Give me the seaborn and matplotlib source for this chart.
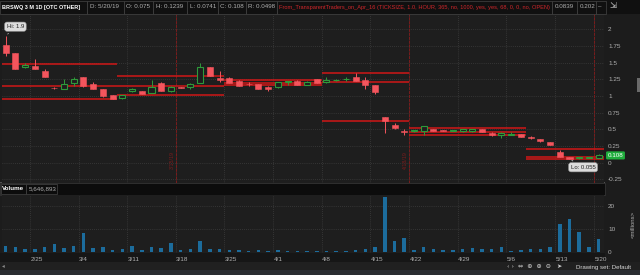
import numpy as np
import pandas as pd
import matplotlib
matplotlib.use("Agg")
import matplotlib.pyplot as plt
import matplotlib.transforms as mtransforms
from matplotlib.patches import Rectangle
import seaborn as sns

# ---------------- data ----------------
opens = [1.77, 1.64, 1.43, 1.45, 1.37, 1.125, 1.11, 1.19, 1.29, 1.18,
         1.10, 1.01, 0.965, 1.08, 1.075, 1.04, 1.20, 1.07, 1.135, 1.13,
         1.20, 1.44, 1.265, 1.265, 1.23, 1.18, 1.175, 1.14, 1.135, 1.21,
         1.23, 1.165, 1.25, 1.21, 1.235, 1.25, 1.29, 1.24, 1.165, 0.68,
         0.565, 0.47, 0.47, 0.475, 0.505, 0.48, 0.475, 0.47, 0.47, 0.50,
         0.45, 0.41, 0.42, 0.425, 0.39, 0.35, 0.31, 0.16, 0.08, 0.065,
         0.07, 0.075]
highs = [1.90, 1.65, 1.50, 1.55, 1.41, 1.13, 1.26, 1.29, 1.29, 1.21,
         1.11, 1.02, 1.02, 1.12, 1.08, 1.24, 1.21, 1.15, 1.14, 1.20,
         1.50, 1.44, 1.38, 1.28, 1.24, 1.21, 1.18, 1.15, 1.21, 1.22,
         1.24, 1.22, 1.26, 1.28, 1.25, 1.28, 1.34, 1.28, 1.17, 0.69,
         0.60, 0.50, 0.49, 0.555, 0.51, 0.485, 0.49, 0.50, 0.505, 0.505,
         0.455, 0.46, 0.46, 0.43, 0.395, 0.355, 0.315, 0.19, 0.085, 0.08,
         0.085, 0.1239]
lows = [1.60, 1.40, 1.42, 1.40, 1.28, 1.11, 1.10, 1.15, 1.13, 1.10,
        0.99, 0.95, 0.96, 1.06, 1.03, 1.04, 1.08, 1.06, 1.12, 1.10,
        1.19, 1.30, 1.21, 1.19, 1.15, 1.15, 1.10, 1.075, 1.12, 1.16,
        1.16, 1.16, 1.19, 1.20, 1.23, 1.23, 1.22, 1.11, 1.03, 0.45,
        0.51, 0.42, 0.46, 0.42, 0.47, 0.47, 0.47, 0.465, 0.465, 0.455,
        0.40, 0.365, 0.41, 0.38, 0.36, 0.315, 0.265, 0.085, 0.055, 0.06,
        0.065, 0.0741]
closes = [1.64, 1.41, 1.46, 1.41, 1.28, 1.115, 1.175, 1.26, 1.15, 1.10,
          1.00, 0.96, 1.015, 1.10, 1.03, 1.14, 1.08, 1.13, 1.125, 1.18,
          1.435, 1.30, 1.235, 1.20, 1.155, 1.175, 1.105, 1.10, 1.21, 1.22,
          1.16, 1.21, 1.20, 1.24, 1.245, 1.26, 1.225, 1.165, 1.065, 0.63,
          0.52, 0.46, 0.48, 0.55, 0.475, 0.475, 0.48, 0.50, 0.50, 0.46,
          0.41, 0.45, 0.43, 0.385, 0.365, 0.32, 0.27, 0.09, 0.06, 0.075,
          0.08, 0.108]
volume_m = [2.5, 2.2, 1.05, 1.2, 2.2, 3.4, 1.6, 2.5, 8.4, 1.5,
            2.2, 0.75, 1.05, 2.5, 0.75, 2.2, 1.5, 3.7, 0.75, 1.05,
            4.7, 1.05, 1.05, 0.75, 0.75, 0.3, 0.6, 0.3, 0.6, 0.3,
            0.3, 0.2, 0.3, 0.3, 0.1, 0.5, 0.8, 1.0, 2.0, 24.2,
            4.7, 6.2, 0.8, 2.2, 1.2, 0.6, 0.8, 1.2, 1.6, 1.0,
            1.2, 2.0, 0.5, 0.8, 1.2, 1.2, 2.0, 12.3, 14.3, 8.5,
            2.0, 5.65]

# week-start bars (index) and their labels
week_idx = [3, 8, 13, 18, 23, 28, 33, 38, 42, 47, 52, 57, 61]
week_labels = ["2/25", "3/4", "3/11", "3/18", "3/25", "4/1", "4/8", "4/15",
               "4/22", "4/29", "5/6", "5/13", "5/20"]
# option-expiration markers (bar index, label; the last label is hidden under the Lo bubble)
exp_idx = [17, 41, 60]
exp_labels = ["3/15/19", "4/18/19", ""]
# study levels: segment start/end (in bar units) and levels
seg_start = [-0.5, 11.5, 22.5, 32.5, 41.5, 53.5]
seg_end = [11.5, 22.5, 32.5, 41.5, 53.5, 61.6]
seg_levels = [[1.48, 1.15, 0.955], [1.30, 1.145, 1.02], [1.235, 1.19, 1.16],
              [1.35, 1.215, 0.625], [0.515, 0.455, 0.415], [0.20, 0.09, 0.055]]
price_ticks = [2, 1.75, 1.5, 1.25, 1, 0.75, 0.5, 0.25, 0, -0.25]
price_tick_labels = ["2", "1.75", "1.5", "1.25", "1", "0.75", "0.5", "0.25", "0", "-0.25"]
vol_ticks = [0, 10, 20]

header_cells = [("BRSWQ 3 M 1D [OTC OTHER]", 0, 87), ("D: 5/20/19", 87, 124),
                ("O: 0.075", 124, 153), ("H: 0.1239", 153, 187), ("L: 0.0741", 187, 218),
                ("C: 0.108", 218, 246), ("R: 0.0498", 246, 277),
                ("From_TransparentTraders_on_Apr_16 (TICKSIZE, 1.0, HOUR, 365, no, 1000, yes, yes, 68, 0, 0, no, OPEN)", 277, 552),
                ("0.0839", 552, 577), ("0.202", 577, 596), ("–", 596, 606)]

# ---------------- style ----------------
sns.set_theme(style="dark")
plt.rcParams["font.family"] = ["Liberation Sans", "DejaVu Sans"]

BG = "#1e1e1e"
FIG_BG = "#1c1c1c"
GRID = "#4a4a4a"
RED = "#f4555d"
GREEN = "#2e9a3a"
LEVEL = "#d01717"
EXP = "#7a1c1c"
BLUE = "#1c6c9c"
TXT = "#b0b0b0"

W, H = 640, 275
fig = plt.figure(figsize=(6.4, 2.75), dpi=100, facecolor=FIG_BG)


def frac(x0, y0, x1, y1):
    return [x0 / W, 1 - y1 / H, (x1 - x0) / W, (y1 - y0) / H]


n = len(opens)
idx = np.arange(n)
XL = (-0.38, 61.55)

# ---------------- price panel ----------------
ax = fig.add_axes(frac(2, 14, 604, 183))
ax.set_facecolor(BG)
ax.set_xlim(*XL)
ax.set_ylim(-0.306, 2.23)
for t in price_ticks:
    ax.axhline(t, color=GRID, lw=0.5, ls=(0, (1, 2)), zorder=0)
for w in week_idx:
    ax.axvline(w - 0.5, color=GRID, lw=0.5, ls=(0, (1, 2)), zorder=0)
for e, lab in zip(exp_idx, exp_labels):
    ax.axvline(e + 0.5, color=EXP, lw=0.7, ls=(0, (3, 1)), zorder=1)
    if lab:
        ax.text(e + 0.15, 0.04, lab, rotation=90, color=EXP, fontsize=3.8,
                ha="center", va="center", zorder=1)

for s0, s1, levs in zip(seg_start, seg_end, seg_levels):
    for lv in levs:
        ax.hlines(lv, s0, s1, color=LEVEL, lw=1.1, zorder=2)

o = np.array(opens); c = np.array(closes); hi = np.array(highs); lo = np.array(lows)
up = c >= o
for i in range(n):
    col = GREEN if up[i] else RED
    ax.vlines(i, lo[i], hi[i], color=col, lw=0.7, zorder=3)
    bottom = min(o[i], c[i])
    height = max(abs(c[i] - o[i]), 0.012)
    if up[i]:
        ax.bar(i, height, bottom=bottom, width=0.62, facecolor=BG, edgecolor=GREEN,
               linewidth=0.8, zorder=4)
    else:
        ax.bar(i, height, bottom=bottom, width=0.62, facecolor=RED, edgecolor=RED,
               linewidth=0.4, zorder=4)

ax.yaxis.tick_right()
ax.set_yticks(price_ticks)
ax.set_yticklabels(price_tick_labels)
ax.tick_params(axis="y", length=0, pad=3, labelsize=4.6, colors=TXT)
ax.set_xticks([])
for sp in ax.spines.values():
    sp.set_visible(False)

# Hi / Lo callouts
imax = int(np.argmax(hi)); imin = int(np.argmin(lo))
ax.annotate(f"Hi: {hi[imax]:g}", xy=(imax, hi[imax]), xytext=(imax + 1.0, hi[imax] + 0.14),
            fontsize=4.3, color="#222222", ha="center", va="center", zorder=6,
            bbox=dict(boxstyle="round,pad=0.35,rounding_size=0.4", fc="#dcdcdc", ec="#9a9a9a", lw=0.4),
            arrowprops=dict(arrowstyle="-", color="#dcdcdc", lw=0.5))
ax.annotate(f"Lo: {lo[imin]:g}", xy=(imin, lo[imin]), xytext=(imin + 1.4, lo[imin] - 0.125),
            fontsize=4.3, color="#222222", ha="center", va="center", zorder=6,
            bbox=dict(boxstyle="round,pad=0.35,rounding_size=0.4", fc="#dcdcdc", ec="#9a9a9a", lw=0.4),
            arrowprops=dict(arrowstyle="-", color="#dcdcdc", lw=0.5))

# last price label on right axis
tr = mtransforms.blended_transform_factory(ax.transAxes, ax.transData)
ax.text(1.006, c[-1], f"{c[-1]:g}", transform=tr, fontsize=4.5, color="white",
        ha="left", va="center", zorder=6, clip_on=False,
        bbox=dict(boxstyle="round,pad=0.25,rounding_size=0.2", fc="#1fae3c", ec="none"))

# ---------------- volume panel ----------------
axv = fig.add_axes(frac(2, 195, 604, 253))
axv.set_facecolor(BG)
vdf = pd.DataFrame({"i": idx, "vol": volume_m})
sns.barplot(data=vdf, x="i", y="vol", native_scale=True, color=BLUE, saturation=1,
            width=0.36, ax=axv, zorder=3, linewidth=0)
axv.set_xlim(*XL)
axv.set_ylim(-0.57, 25.0)
for t in [10, 20]:
    axv.axhline(t, color=GRID, lw=0.5, ls=(0, (1, 2)), zorder=0)
for w in week_idx:
    axv.axvline(w - 0.5, color=GRID, lw=0.5, ls=(0, (1, 2)), zorder=0)
axv.yaxis.tick_right()
axv.set_yticks(vol_ticks)
axv.tick_params(axis="y", length=0, pad=3, labelsize=4.6, colors=TXT)
axv.set_xticks([])
axv.set_xlabel(""); axv.set_ylabel("")
for sp in axv.spines.values():
    sp.set_visible(False)

trv = mtransforms.blended_transform_factory(axv.transData, axv.transAxes)
for w, lab in zip(week_idx, week_labels):
    axv.text(w - 0.45, -0.11, lab, transform=trv, fontsize=4.6, color=TXT,
             ha="left", va="center", clip_on=False)

# ---------------- chrome overlay (pixel coordinates) ----------------
ov = fig.add_axes([0, 0, 1, 1], zorder=-1)
ov.set_xlim(0, W); ov.set_ylim(H, 0); ov.axis("off")
ov.add_patch(Rectangle((0, 0), W, 14, fc="#101010", ec="none"))
ov.add_patch(Rectangle((0, 183), 605, 12, fc="#0c0c0c", ec="#3a3a3a", lw=0.5))
ov.add_patch(Rectangle((0, 253), 605, 9, fc="#161616", ec="none"))
ov.add_patch(Rectangle((0, 262), W, 8, fc="#202020", ec="none"))
ov.add_patch(Rectangle((0, 270), W, 5, fc="#2a2d31", ec="none"))
ov.add_patch(Rectangle((0, 182), 605, 1, fc="#505050", ec="none"))

top = fig.add_axes([0, 0, 1, 1], zorder=10)
top.set_xlim(0, W); top.set_ylim(H, 0); top.axis("off")
top.patch.set_alpha(0)
for k, (txt, x0, x1) in enumerate(header_cells):
    top.add_patch(Rectangle((x0, 0.5), x1 - x0, 13, fc="none", ec="#3c3c3c", lw=0.6))
    if k == 0:
        top.text(x0 + 2, 7, txt, color="white", fontsize=4.0, fontweight="bold", va="center")
    elif k == 7:
        top.text(x0 + 2, 7, txt, color="#d0262a", fontsize=4.1, va="center")
    else:
        top.text(x0 + 2.5, 7, txt, color=TXT, fontsize=4.5, va="center")
top.text(613, 7, "⇲", color="#cfcfcf", fontsize=6, ha="center", va="center")

top.add_patch(Rectangle((0.5, 184), 25.5, 10, fc="none", ec="#3c3c3c", lw=0.6))
top.add_patch(Rectangle((26, 184), 31, 10, fc="none", ec="#3c3c3c", lw=0.6))
top.text(2, 189, "Volume", color="white", fontsize=4.5, fontweight="bold", va="center")
top.text(28.5, 189, "5,646,893", color=TXT, fontsize=4.5, va="center")
top.text(633, 224, "<millions>", color=TXT, fontsize=4.3, rotation=90, ha="center", va="center")

top.text(2, 266, "◂", color="#8a8a8a", fontsize=4, va="center")
top.text(507, 267, "‹ ›  ⇔  ⊕  ⊕  ⊖   ➤", color="#cfcfcf", fontsize=4.5, va="center",
         family=["DejaVu Sans"])
top.text(576, 267, "Drawing set: Default", color="#d8d8d8", fontsize=4.4, va="center")
top.add_patch(Rectangle((637, 78), 2.5, 14, fc="#6a6a6a", ec="none"))

fig.savefig("out.png", dpi=100, facecolor=FIG_BG)
